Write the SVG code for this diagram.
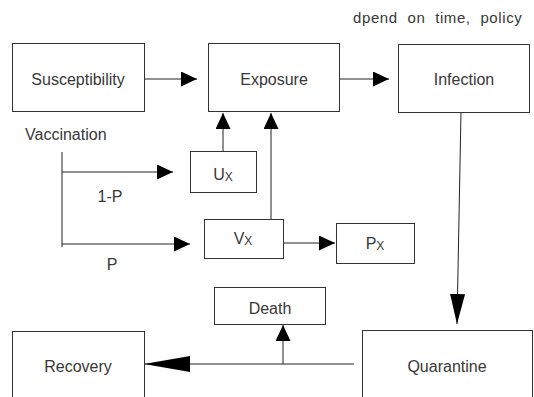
<svg xmlns="http://www.w3.org/2000/svg" width="534" height="397" viewBox="0 0 534 397">
<style>
  .box { fill: #ffffff; stroke: #333333; stroke-width: 1; }
  .lbl { font-family: "Liberation Sans", Arial, sans-serif; font-size: 16px; fill: #383838; text-anchor: middle; }
  .free { font-family: "Liberation Sans", Arial, sans-serif; font-size: 16px; fill: #383838; }
  .note { font-family: "Liberation Sans", Arial, sans-serif; font-size: 15px; fill: #383838; letter-spacing: 0.6px; word-spacing: 5px; }
  .sub { font-size: 12px; }
  .edge { fill: none; stroke: #222222; stroke-width: 1; }
</style>
<defs>
  <marker id="ah" markerUnits="userSpaceOnUse" viewBox="0 0 16 15" refX="16" refY="7.5" markerWidth="16" markerHeight="15" orient="auto">
    <path d="M0,0 L16,7.5 L0,15 Z" fill="#000000"/>
  </marker>
  <marker id="ahLong" markerUnits="userSpaceOnUse" viewBox="0 0 30 15" refX="30" refY="7.5" markerWidth="30" markerHeight="15" orient="auto">
    <path d="M0,0 L30,7.5 L0,15 Z" fill="#000000"/>
  </marker>
  <marker id="ahBig" markerUnits="userSpaceOnUse" viewBox="0 0 46 16" refX="46" refY="8" markerWidth="46" markerHeight="16" orient="auto">
    <path d="M0,0 L46,8 L0,16 Z" fill="#000000"/>
  </marker>
</defs>

<text class="note" x="353" y="23">dpend on time, policy</text>

<g id="connectors">
  <line class="edge" x1="144" y1="79" x2="197" y2="79" marker-end="url(#ah)"/>
  <line class="edge" x1="337" y1="79" x2="389" y2="79" marker-end="url(#ah)"/>
  <line class="edge" x1="62" y1="152" x2="62" y2="247"/>
  <line class="edge" x1="62" y1="172" x2="173" y2="172" marker-end="url(#ah)"/>
  <line class="edge" x1="62" y1="244" x2="190" y2="244" marker-end="url(#ah)"/>
  <line class="edge" x1="223" y1="151" x2="223" y2="113" marker-end="url(#ah)"/>
  <line class="edge" x1="271" y1="219" x2="271" y2="113" marker-end="url(#ah)"/>
  <line class="edge" x1="283" y1="243" x2="335" y2="243" marker-end="url(#ah)"/>
  <line class="edge" x1="461" y1="112" x2="457" y2="324" marker-end="url(#ahLong)"/>
  <line class="edge" x1="354" y1="364" x2="144" y2="364" marker-end="url(#ahBig)"/>
  <line class="edge" x1="283" y1="364" x2="283" y2="325" marker-end="url(#ah)"/>
</g>

<g id="susceptibility">
  <rect class="box" x="12.5" y="43.5" width="132" height="68"/>
  <text class="lbl" x="78" y="85">Susceptibility</text>
</g>
<g id="exposure">
  <rect class="box" x="208.5" y="43.5" width="131" height="68"/>
  <text class="lbl" x="274" y="85">Exposure</text>
</g>
<g id="infection">
  <rect class="box" x="398.5" y="44.5" width="131" height="68"/>
  <text class="lbl" x="464" y="85">Infection</text>
</g>
<g id="vaccination">
  <text class="free" x="25" y="140">Vaccination</text>
  <text class="lbl" x="110" y="202">1-P</text>
  <text class="lbl" x="112" y="270">P</text>
</g>
<g id="ux">
  <rect class="box" x="190.5" y="151.5" width="66" height="41"/>
  <text class="lbl" x="223" y="180">U<tspan class="sub" dy="1">X</tspan></text>
</g>
<g id="vx">
  <rect class="box" x="204.5" y="219.5" width="79" height="39"/>
  <text class="lbl" x="243" y="244">V<tspan class="sub" dy="1">X</tspan></text>
</g>
<g id="px">
  <rect class="box" x="336.5" y="223.5" width="78" height="40"/>
  <text class="lbl" x="375" y="249">P<tspan class="sub" dy="1">X</tspan></text>
</g>
<g id="death">
  <rect class="box" x="214.5" y="287.5" width="111" height="37"/>
  <text class="lbl" x="270" y="314">Death</text>
</g>
<g id="recovery">
  <rect class="box" x="12.5" y="331.5" width="132" height="100"/>
  <text class="lbl" x="78" y="372">Recovery</text>
</g>
<g id="quarantine">
  <rect class="box" x="362.5" y="330.5" width="170" height="100"/>
  <text class="lbl" x="447" y="372">Quarantine</text>
</g>
</svg>
